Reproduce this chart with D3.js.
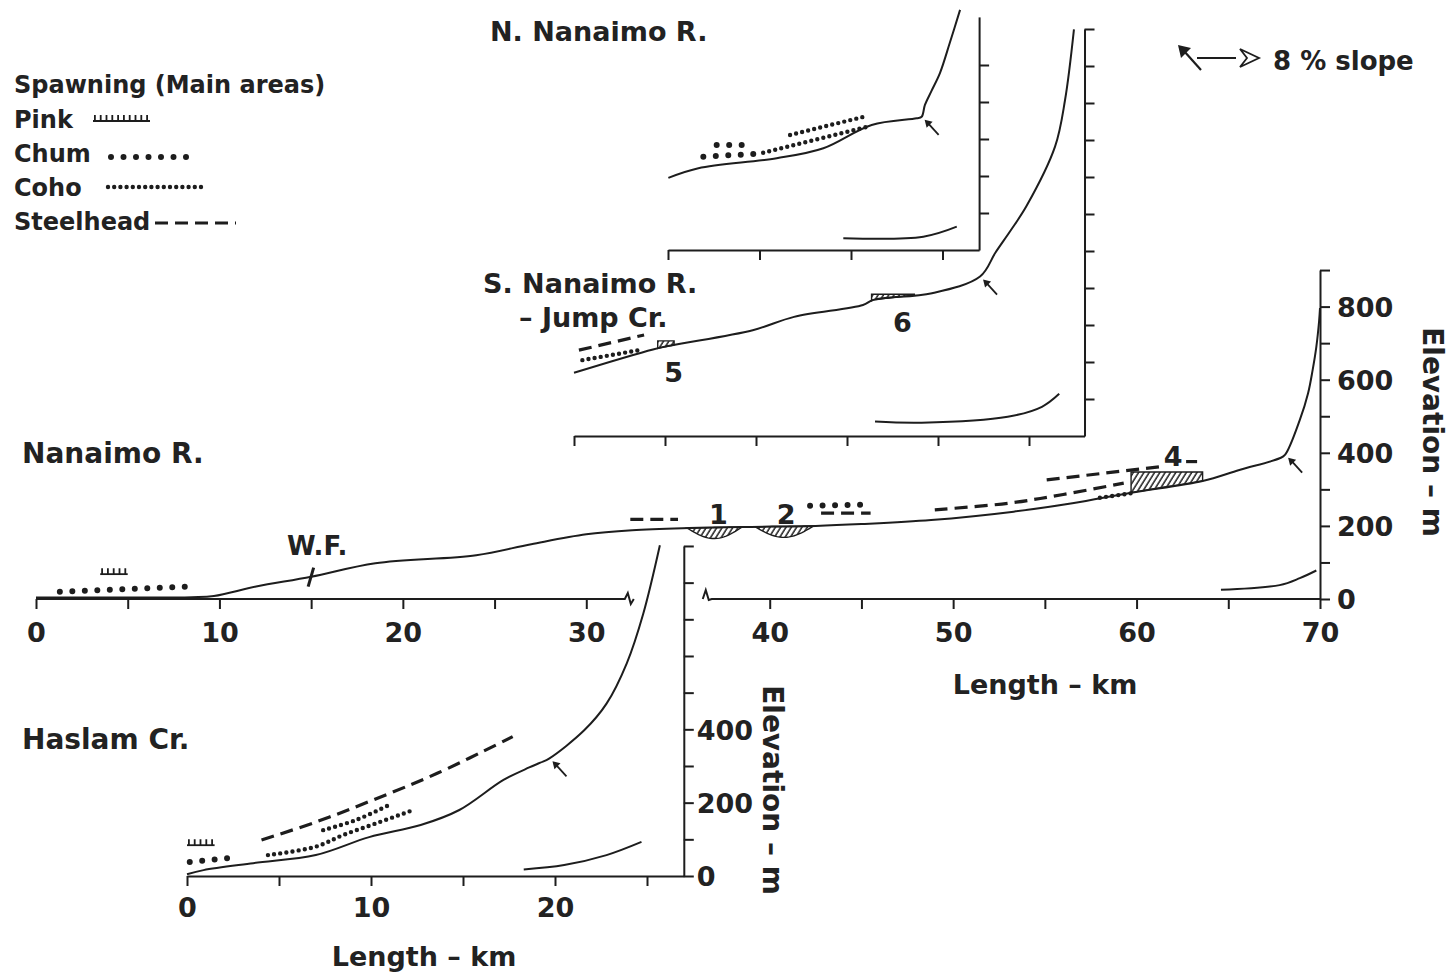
<!DOCTYPE html>
<html><head><meta charset="utf-8">
<script src="https://cdn.jsdelivr.net/npm/d3@7"></script>
<style>
body{margin:0;background:#fff}
svg{display:block}
text{font-family:"DejaVu Sans",sans-serif;font-weight:bold;fill:#222}
</style>
</head><body>
<svg id="c" width="1450" height="973"></svg>
<script>
// ---------------- DATA (km, elevation m) ----------------
const nanaimoProfile = [[0,4],[5,4],[8.5,5],[9.7,8],[12,34],[15,61],[18.5,98],[24,120],[27,150],[30,177],[32.5,188],[35.6,194],[38.5,197],[42.5,200],[45,205],[48.8,216],[53.3,239],[56.5,262],[59.7,291],[63.6,323],[65.6,353],[67.8,385],[68.1,395],[68.9,490],[69.35,563],[69.6,627],[69.8,690],[69.95,760],[70.0,796]];
const nanaimoGradient = [[64.6,25],[67.8,38],[68.9,57],[69.8,78]];
const haslamProfile = [[0,5],[0.9,16],[3.6,35],[7.0,57],[9.9,106],[12.7,139],[14.8,180],[17.2,262],[18.6,296],[19.2,309],[19.7,321],[21.6,398],[22.8,470],[23.9,580],[24.8,716],[25.7,902]];
const haslamGradient = [[18.3,18],[20.5,30],[22.8,57],[24.7,93]];
const southProfile = [[0,171],[4.34,234],[5.47,246],[9.82,286],[12.09,322],[15.88,354],[16.45,368],[19.67,386],[22.31,431],[23.16,496],[24.0,556],[24.87,622],[26.43,782],[26.98,908],[27.47,1099]];
const southGradient = [[16.54,39],[19.1,36],[23.83,52],[25.71,79],[26.66,114]];
const northProfile = [[0.02,195],[1.66,221],[5.94,248],[8.49,275],[11.13,338],[13.59,356],[13.86,360],[14.04,392],[14.4,430],[14.86,478],[15.4,560],[15.96,649]];
const northGradient = [[9.58,32],[13.95,36],[15.78,63]];

// 8 % slope points (km)
const slopePoints = {main:68.1, haslam:19.7, south:22.31, north:13.86};

// Spawning reaches
const nanaimoPink = [[3.5,68],[5.0,68]];
const nanaimoChum = [[[1.3,20],[8.4,34]], [[42.2,255],[45.3,258]]];
const nanaimoCoho = [[[58.0,277],[59.8,290]]];
const nanaimoSteelhead = [[[32.4,218],[35.0,218]], [[42.8,235],[45.5,235]], [[49.0,244],[53,262],[56,286],[59.3,317]], [[55.1,326],[61.3,362]], [[62.7,376],[63.3,376]]];
const haslamPink = [[0,84],[1.5,84]];
const haslamChum = [[[0.15,38],[2.8,52]]];
const haslamCoho = [[[4.4,57],[7.0,80],[8.5,112],[10.3,144],[12.3,180]], [[7.4,125],[9.2,153],[11.0,194]]];
const haslamSteelhead = [[[4.05,98],[7.05,148],[10.1,207],[13.6,280],[17.7,380]]];
const southCoho = [[[0.46,205],[3.57,232]]];
const southSteelhead = [[[0.27,232],[3.85,273]]];
const northChum = [[[2.66,284],[4.3,284]], [[1.93,252],[5.2,261]]];
const northCoho = [[[5.2,263],[11.04,335]], [[6.67,311],[10.86,362]]];

// Numbered reaches: [label, from km, to km, kind]
const nanaimoReaches = [["1",35.5,38.5,"below"],["2",39.2,42.4,"below"],["4",59.7,63.6,"above"]];
const southReaches = [["5",4.6,5.5,"above"],["6",16.35,18.7,"above"]];

// Axis ticks
const mainXTicksLeft = [0,5,10,15,20,25,30];
const mainXTicksRight = [40,45,50,55,60,65,70];
const mainXLabels = [0,10,20,30,40,50,60,70];
const mainYTicks = [0,100,200,300,400,500,600,700,800,900];
const mainYLabels = [0,200,400,600,800];
const haslamXTicks = [0,5,10,15,20,25];
const haslamXLabels = [0,10,20];
const haslamYTicks = [0,100,200,300,400,500,600,700,800,900];
const haslamYLabels = [0,200,400];
const southXTicks = [0,5,10,15,20,25];
const southYTicks = [100,200,300,400,500,600,700,800,900,1000,1100];
const northXTicks = [0,5,10,15];
const northYTicks = [100,200,300,400,500];

const legendTitle = "Spawning (Main areas)";
const legendItems = ["Pink","Chum","Coho","Steelhead"];

// ---------------- DRAWING ----------------
const ink = "#1d1d1d";
const svg = d3.select("#c");
svg.append("rect").attr("width",1450).attr("height",973).attr("fill","#fff");
const defs = svg.append("defs");
defs.append("pattern").attr("id","hatch").attr("patternUnits","userSpaceOnUse")
  .attr("width",4.5).attr("height",12).attr("patternTransform","rotate(32)")
  .append("line").attr("x1",1).attr("y1",0).attr("x2",1).attr("y2",12)
  .attr("stroke",ink).attr("stroke-width",1.5);

const P = {
  main:   {x:d3.scaleLinear([0,70],[36,1320]),           y:d3.scaleLinear([0,900],[599,599-900*0.3655])},
  haslam: {x:d3.scaleLinear([0,27],[187,187+27*18.4]),   y:d3.scaleLinear([0,900],[876,876-900*0.3667])},
  south:  {x:d3.scaleLinear([0,28.05],[574,574+28.05*18.2]), y:d3.scaleLinear([0,1100],[436,436-1100*0.37])},
  north:  {x:d3.scaleLinear([0,17.0],[668,668+17.0*18.3]), y:d3.scaleLinear([0,630],[250,250-630*0.37])}
};

function interp(profile, km){
  if (km<=profile[0][0]) return profile[0][1];
  for (let i=1;i<profile.length;i++){
    if (km<=profile[i][0]){const [a,ya]=profile[i-1],[b,yb]=profile[i];return ya+(yb-ya)*(km-a)/(b-a);}
  }
  return profile[profile.length-1][1];
}
const lineFor = p => d3.line().x(d=>p.x(d[0])).y(d=>p.y(d[1])).curve(d3.curveCatmullRom.alpha(0.5));

function profile(p, data, w){
  svg.append("path").attr("d", lineFor(p)(data)).attr("fill","none")
    .attr("stroke",ink).attr("stroke-width",w||2).attr("stroke-linejoin","round");
}

const styles = {
  chum:{w:6, dash:"0 12.5", cap:"round"},
  coho:{w:4.4, dash:"0 6.2", cap:"round"},
  steel:{w:3.2, dash:"13 7", cap:"butt"}
};
function spawnPath(d, type){
  const s = styles[type];
  svg.append("path").attr("d", d).attr("fill","none").attr("stroke",ink)
    .attr("stroke-width",s.w).attr("stroke-dasharray",s.dash).attr("stroke-linecap",s.cap);
}
function spawn(p, lines, type){ lines.forEach(l => spawnPath(lineFor(p)(l), type)); }
function pinkMark(x1,x2,y){
  svg.append("path").attr("d",`M${x1},${y}L${x2},${y}`).attr("stroke",ink).attr("stroke-width",1.8);
  svg.append("path").attr("d",`M${x1+1},${y-3}L${x2},${y-3}`).attr("stroke",ink)
    .attr("stroke-width",6).attr("stroke-dasharray","1.8 4");
}
function pink(p, pts){ pinkMark(p.x(pts[0][0]), p.x(pts[1][0]), p.y(pts[0][1])); }

function reach(p, prof, r, depthPx, topPad){
  const [lab,a,b,kind] = r, n = 24, top=[], bot=[];
  if (kind==="below"){
    for(let i=0;i<=n;i++){const km=a+(b-a)*i/n; top.push([p.x(km),p.y(interp(prof,km))]);}
    for(let i=n;i>=0;i--){const km=a+(b-a)*i/n; bot.push([p.x(km),p.y(interp(prof,km))+depthPx*Math.sin(Math.PI*i/n)]);}
  } else {
    const yTop = p.y(interp(prof,b)) - topPad;
    top.push([p.x(a), yTop],[p.x(b), yTop]);
    for(let i=n;i>=0;i--){const km=a+(b-a)*i/n; bot.push([p.x(km),p.y(interp(prof,km))]);}
  }
  const pts = top.concat(bot);
  svg.append("path").attr("d","M"+pts.map(q=>q.join(",")).join("L")+"Z")
    .attr("fill","url(#hatch)").attr("stroke",ink).attr("stroke-width",1.4);
}

function slopeArrow(p, prof, km){
  const x = p.x(km)+3, y = p.y(interp(prof,km))+3;
  svg.append("path").attr("d",`M${x+4},${y+4}L${x+14},${y+15}`).attr("stroke",ink).attr("stroke-width",1.8);
  svg.append("path").attr("d",`M${x},${y}L${x+8},${y+2}L${x+2},${y+8}Z`).attr("fill",ink);
}

// ----- axes -----
const axisFont = 27;
function xAxis(p, ticks, labels, baseLabelY, removeDomain){
  const g = svg.append("g").attr("transform",`translate(0,${p.y(0)})`)
    .call(d3.axisBottom(p.x).tickValues(ticks).tickSize(10).tickSizeOuter(0)
      .tickFormat(d => labels.includes(d) ? d : ""));
  if (removeDomain) g.select(".domain").remove();
  g.selectAll("line").attr("stroke",ink).attr("stroke-width",2);
  g.select(".domain").attr("stroke",ink).attr("stroke-width",2);
  g.selectAll("text").attr("y",baseLabelY).attr("dy",null)
    .style("font-size",axisFont+"px").style("font-family","DejaVu Sans").style("font-weight","bold").attr("fill","#222");
  return g;
}
function yAxis(p, ticks, labels, labelX){
  const g = svg.append("g").attr("transform",`translate(${p.x.range()[1]},0)`)
    .call(d3.axisRight(p.y).tickValues(ticks).tickSize(10).tickSizeOuter(0)
      .tickFormat(d => labels.includes(d) ? d : ""));
  g.selectAll("line").attr("stroke",ink).attr("stroke-width",2);
  g.select(".domain").attr("stroke",ink).attr("stroke-width",2);
  g.selectAll("text").attr("x",labelX).attr("dy","0.36em")
    .style("font-size",axisFont+"px").style("font-family","DejaVu Sans").style("font-weight","bold").attr("fill","#222");
  return g;
}

// Main Nanaimo axes (broken x axis)
const M = P.main;
xAxis(M, mainXTicksLeft, mainXLabels, 43, true);
xAxis(M, mainXTicksRight, mainXLabels, 43, true);
const by = M.y(0);
svg.append("path").attr("d",`M${M.x(0)},${by}L${M.x(32.1)},${by}l3,-6l3,11l3,-5`)
  .attr("fill","none").attr("stroke",ink).attr("stroke-width",2);
svg.append("path").attr("d",`M${M.x(36.35)},${by}l3,-9l3,10l3,-1L${M.x(70)},${by}`)
  .attr("fill","none").attr("stroke",ink).attr("stroke-width",2);
yAxis(M, mainYTicks, mainYLabels, 17);

// Haslam axes
const H = P.haslam;
xAxis(H, haslamXTicks, haslamXLabels, 41, false);
yAxis(H, haslamYTicks, haslamYLabels, 13);

// South & North axes
const S = P.south, N = P.north;
xAxis(S, southXTicks, [], 40, false);
yAxis(S, southYTicks, [], 13);
xAxis(N, northXTicks, [], 40, false);
yAxis(N, northYTicks, [], 13);

// ----- reaches (hatched) -----
nanaimoReaches.forEach(r => reach(M, nanaimoProfile, r, 11, 9));
southReaches.forEach(r => reach(S, southProfile, r, 8, r[0]==="5" ? 4 : 1));

// ----- profiles -----
profile(M, nanaimoProfile); profile(M, nanaimoGradient);
profile(H, haslamProfile); profile(H, haslamGradient);
profile(S, southProfile); profile(S, southGradient);
profile(N, northProfile); profile(N, northGradient);

// ----- spawning -----
pink(M, nanaimoPink);
spawn(M, nanaimoChum, "chum");
spawn(M, nanaimoCoho, "coho");
spawn(M, nanaimoSteelhead, "steel");
pink(H, haslamPink);
spawn(H, haslamChum, "chum");
spawn(H, haslamCoho, "coho");
spawn(H, haslamSteelhead, "steel");
spawn(S, southCoho, "coho");
spawn(S, southSteelhead, "steel");
spawn(N, northChum, "chum");
spawn(N, northCoho, "coho");

// ----- 8% slope arrows -----
slopeArrow(M, nanaimoProfile, slopePoints.main);
slopeArrow(H, haslamProfile, slopePoints.haslam);
slopeArrow(S, southProfile, slopePoints.south);
slopeArrow(N, northProfile, slopePoints.north);

// W.F. marker
{
  const x = M.x(15), y = M.y(interp(nanaimoProfile,15));
  svg.append("path").attr("d",`M${x+2.5},${y-9}L${x-3},${y+10}`).attr("stroke",ink).attr("stroke-width",3);
}

// ----- text -----
function txt(s, x, y, size, anchor){
  return svg.append("text").attr("x",x).attr("y",y).attr("text-anchor",anchor||"start")
    .style("font-size",size+"px").text(s);
}
txt("N. Nanaimo R.", 490, 41, 27);
txt("S. Nanaimo R.", 483, 293, 27);
txt("– Jump Cr.", 519, 327, 27);
txt("Nanaimo R.", 22, 463, 28);
txt("Haslam Cr.", 22, 749, 28);
txt("W.F.", 287, 555, 26);
txt("8 % slope", 1273, 70, 26);
txt("Length – km", 1045, 694, 27, "middle");
txt("Length – km", 424, 966, 27, "middle");
svg.append("text").attr("transform","translate(1423,432) rotate(90)").attr("text-anchor","middle")
  .style("font-size","28px").text("Elevation – m");
svg.append("text").attr("transform","translate(763,790) rotate(90)").attr("text-anchor","middle")
  .style("font-size","28px").text("Elevation – m");

// reach numbers
const numLab = [[M,"1",37.2,205],[M,"2",40.9,205],[M,"4",62.0,365],[S,"5",5.47,145],[S,"6",18.05,280]];
numLab.forEach(([p,s,km,e]) => txt(s, p.x(km), p.y(e), 27, "middle"));

// legend
txt(legendTitle, 14, 93, 24);
const legY = [128,162,196,230];
legendItems.forEach((s,i) => txt(s, 14, legY[i], 24));
pinkMark(93,150,121);
spawnPath("M111,157L191,157","chum");
spawnPath("M108,187L202,187","coho");
spawnPath("M155,223L236,223","steel");

// 8% slope legend symbol
svg.append("path").attr("d","M1201,70L1184,51").attr("stroke",ink).attr("stroke-width",2.2);
svg.append("path").attr("d","M1178,45L1191,48L1181,58Z").attr("fill",ink);
svg.append("path").attr("d","M1197,58L1236,58").attr("stroke",ink).attr("stroke-width",1.8);
svg.append("path").attr("d","M1240,49L1259,58L1240,67L1247,58Z").attr("fill","none").attr("stroke",ink).attr("stroke-width",1.8);
</script>
</body></html>
